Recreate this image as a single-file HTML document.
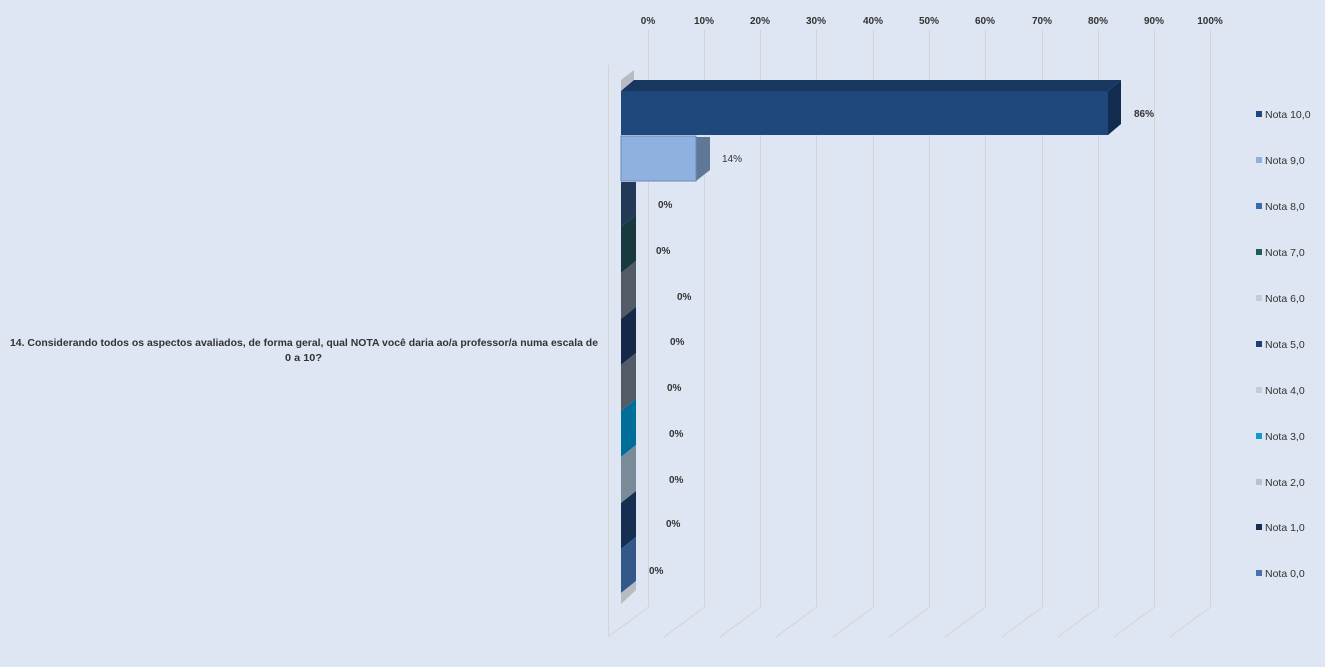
<!DOCTYPE html>
<html><head><meta charset="utf-8"><style>
body{margin:0;background:#dde6f2;}
svg{display:block;font-family:"Liberation Sans",sans-serif;}
</style></head><body>
<svg width="1325" height="667" viewBox="0 0 1325 667" xmlns="http://www.w3.org/2000/svg">
<rect width="1325" height="667" fill="#dde6f2"/>
<g stroke="#d4d4d4" stroke-width="1" fill="none">
<line x1="608.5" y1="65" x2="608.5" y2="637"/>
<line x1="648.5" y1="30" x2="648.5" y2="607"/><line x1="648.5" y1="607" x2="608" y2="637"/>
<line x1="704.5" y1="30" x2="704.5" y2="607"/><line x1="704.5" y1="607" x2="664" y2="637"/>
<line x1="760.5" y1="30" x2="760.5" y2="607"/><line x1="760.5" y1="607" x2="720" y2="637"/>
<line x1="816.5" y1="30" x2="816.5" y2="607"/><line x1="816.5" y1="607" x2="776" y2="637"/>
<line x1="873.5" y1="30" x2="873.5" y2="607"/><line x1="873.5" y1="607" x2="833" y2="637"/>
<line x1="929.5" y1="30" x2="929.5" y2="607"/><line x1="929.5" y1="607" x2="889" y2="637"/>
<line x1="985.5" y1="30" x2="985.5" y2="607"/><line x1="985.5" y1="607" x2="945" y2="637"/>
<line x1="1042.5" y1="30" x2="1042.5" y2="607"/><line x1="1042.5" y1="607" x2="1002" y2="637"/>
<line x1="1098.5" y1="30" x2="1098.5" y2="607"/><line x1="1098.5" y1="607" x2="1058" y2="637"/>
<line x1="1154.5" y1="30" x2="1154.5" y2="607"/><line x1="1154.5" y1="607" x2="1114" y2="637"/>
<line x1="1210.5" y1="30" x2="1210.5" y2="607"/><line x1="1210.5" y1="607" x2="1170" y2="637"/>
</g>
<g font-size="10" fill="#333" text-anchor="middle" font-weight="bold">
<text x="648" y="24">0%</text><text x="704" y="24">10%</text><text x="760" y="24">20%</text><text x="816" y="24">30%</text><text x="873" y="24">40%</text><text x="929" y="24">50%</text><text x="985" y="24">60%</text><text x="1042" y="24">70%</text><text x="1098" y="24">80%</text><text x="1154" y="24">90%</text><text x="1210" y="24">100%</text>
</g>
<polygon points="621,80 634,70 634,82 621,92" fill="#b8bcc2"/>
<polygon points="621,91 634,80 1121,80 1108,91" fill="#173760"/>
<polygon points="1108,91 1121,80 1121,124 1108,135" fill="#122c4f"/>
<rect x="621" y="91" width="487" height="44" fill="#1e487c"/>
<polygon points="696,137 710,137 710,170 696,181" fill="#5f7898"/>
<rect x="621" y="136" width="75" height="45" fill="#8fb1e0" stroke="#6d89b0" stroke-width="1"/>
<polygon points="621,182 636,182 636,215 621,227" fill="#243858"/>
<polygon points="621,227 636,215 636,261 621,273" fill="#17393f"/>
<polygon points="621,273 636,261 636,307 621,319" fill="#535b66"/>
<polygon points="621,319 636,307 636,353 621,365" fill="#15284a"/>
<polygon points="621,365 636,353 636,399 621,411" fill="#535b66"/>
<polygon points="621,411 636,399 636,445 621,457" fill="#006e98"/>
<polygon points="621,457 636,445 636,491 621,503" fill="#7a8a98"/>
<polygon points="621,503 636,491 636,537 621,549" fill="#162e52"/>
<polygon points="621,549 636,537 636,581 621,593" fill="#35588a"/>
<polygon points="621,593 636,581 636,590 621,604" fill="#b8bcc2"/>
<g font-size="10" fill="#333" font-weight="bold">
<text x="1134" y="117">86%</text>
<text x="722" y="162" font-weight="normal">14%</text>
<text x="658" y="208">0%</text>
<text x="656" y="254">0%</text>
<text x="677" y="300">0%</text>
<text x="670" y="345">0%</text>
<text x="667" y="391">0%</text>
<text x="669" y="437">0%</text>
<text x="669" y="483">0%</text>
<text x="666" y="527">0%</text>
<text x="649" y="574">0%</text>
</g>
<g font-size="10.5" fill="#333" font-weight="bold">
<text x="10" y="346" textLength="588" lengthAdjust="spacingAndGlyphs">14. Considerando todos os aspectos avaliados, de forma geral, qual NOTA você daria ao/a professor/a numa escala de</text>
<text x="285" y="361" textLength="37" lengthAdjust="spacingAndGlyphs">0 a 10?</text>
</g>
<g font-size="10.5" fill="#333">
<rect x="1256" y="111" width="6" height="6" fill="#1e487c"/><text x="1265" y="118">Nota 10,0</text>
<rect x="1256" y="157" width="6" height="6" fill="#8fb1e0"/><text x="1265" y="164">Nota 9,0</text>
<rect x="1256" y="203" width="6" height="6" fill="#3a6aaa"/><text x="1265" y="210">Nota 8,0</text>
<rect x="1256" y="249" width="6" height="6" fill="#1f5a60"/><text x="1265" y="256">Nota 7,0</text>
<rect x="1256" y="295" width="6" height="6" fill="#c5ccd6"/><text x="1265" y="302">Nota 6,0</text>
<rect x="1256" y="341" width="6" height="6" fill="#1e3e78"/><text x="1265" y="348">Nota 5,0</text>
<rect x="1256" y="387" width="6" height="6" fill="#c5ccd6"/><text x="1265" y="394">Nota 4,0</text>
<rect x="1256" y="433" width="6" height="6" fill="#0a9ed0"/><text x="1265" y="440">Nota 3,0</text>
<rect x="1256" y="479" width="6" height="6" fill="#b8c2cc"/><text x="1265" y="486">Nota 2,0</text>
<rect x="1256" y="524" width="6" height="6" fill="#162e52"/><text x="1265" y="531">Nota 1,0</text>
<rect x="1256" y="570" width="6" height="6" fill="#4a72aa"/><text x="1265" y="577">Nota 0,0</text>
</g>
</svg>
</body></html>
